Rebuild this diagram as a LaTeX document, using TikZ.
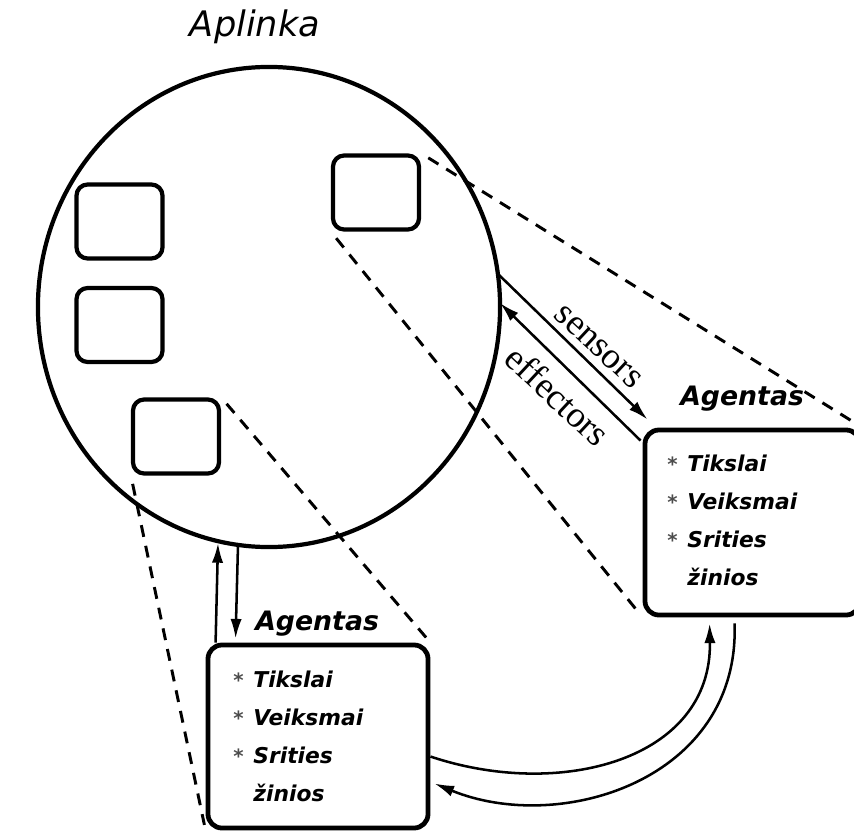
\documentclass[tikz,border=0pt]{standalone}
\usepackage{fontspec}
\usetikzlibrary{arrows.meta,calc,positioning,shapes.geometric}
\newfontfamily\djvfont{DejaVu Sans}
\newfontfamily\serfont{Liberation Serif}
\newcommand{\itm}{{\color{black!70}\fontsize{14}{14}\selectfont *}\hspace{0.45em}}

\begin{document}
\begin{tikzpicture}[x=0.025cm,y=-0.025cm,>=Latex,line join=round]
\tikzset{
  room/.style={draw,line width=3pt,rounded corners=0.28cm,minimum width=2.15cm,minimum height=1.85cm,inner sep=0pt},
  agbox/.style={draw,line width=3.4pt,rounded corners=0.35cm,inner sep=0pt},
  title/.style={font=\djvfont\bfseries\itshape\fontsize{19}{22}\selectfont,anchor=base west,inner sep=0pt},
  goals/.style={font=\djvfont\bfseries\itshape\fontsize{15.5}{27}\selectfont,align=left,anchor=north west,inner sep=0pt},
  link/.style={line width=1.8pt,-{Latex[length=14pt,width=8pt]}},
  proj/.style={line width=2.1pt,dash pattern=on 8.5pt off 6.5pt,shorten <=6pt,shorten >=4pt},
  chan/.style={font=\serfont\fontsize{26}{28}\selectfont,inner sep=0pt,rotate=-43}
}
\useasboundingbox (0,0) rectangle (854,834);
% environment with its objects
\node[draw,ellipse,line width=3pt,minimum width=11.55cm,minimum height=12cm,inner sep=0pt] (env) at (269,307) {};
\node[font=\djvfont\itshape\fontsize{25}{28}\selectfont,anchor=base,inner sep=0pt] (envlbl) at (255,37) {Aplinka};
\node[room] (r1) at (119.5,221.5) {};
\node[room] (r2) at (119.5,325) {};
\node[room] (r3) at (176,436.5) {};
\node[room] (r4) at (376,192.5) {};
% agents
\node[agbox,minimum width=5.375cm,minimum height=4.625cm] (agR) at (752.5,522.5) {};
\node[agbox,minimum width=5.5cm,minimum height=4.575cm] (agB) at (318,736.5) {};
\node[title] (agRt) at (680,405) {Agentas};
\node[title] (agBt) at (255,630) {Agentas};
\node[goals] (listR) at (667,455) {\itm Tikslai\\ \itm Veiksmai\\ \itm Srities\\ \hphantom{\itm}žinios};
\node[goals] (listB) at (233,671) {\itm Tikslai\\ \itm Veiksmai\\ \itm Srities\\ \hphantom{\itm}žinios};
% projections
\draw[proj] (r4.north east) -- (agR.north east);
\draw[proj] (r4.south west) -- (agR.south west);
\draw[proj] (r3.north east) -- (agB.north east);
\draw[proj] (r3.south west) -- (agB.south west);
% sensors and effectors
\coordinate (sOut) at (497,273);
\coordinate (eIn) at (500,303);
\draw[link] (sOut) -- ($(agR.north west)+(5,-8)$);
\draw[link] ($(agR.north west)+(-2,13)$) -- (eIn);
\node[chan] (sens) at (598,347) {sensors};
\node[chan] (eff) at (558,396) {effectors};
% lower agent and environment
\coordinate (upEnd) at (218,543);
\coordinate (dnStart) at (238,545);
\draw[link] ($(agB.north west)+(10,0)$) -- (upEnd);
\draw[link] (dnStart) -- ($(agB.north west)+(30,-4)$);
% agent to agent
\draw[link] ($(agB.east)+(0,20)$) .. controls (560,800) and (712,760) .. ($(agR.south west)+(67,6)$);
\draw[link] ($(agR.south west)+(92,6)$) .. controls (740,780) and (560,835) .. ($(agB.east)+(4,47)$);
\end{tikzpicture}
\end{document}
